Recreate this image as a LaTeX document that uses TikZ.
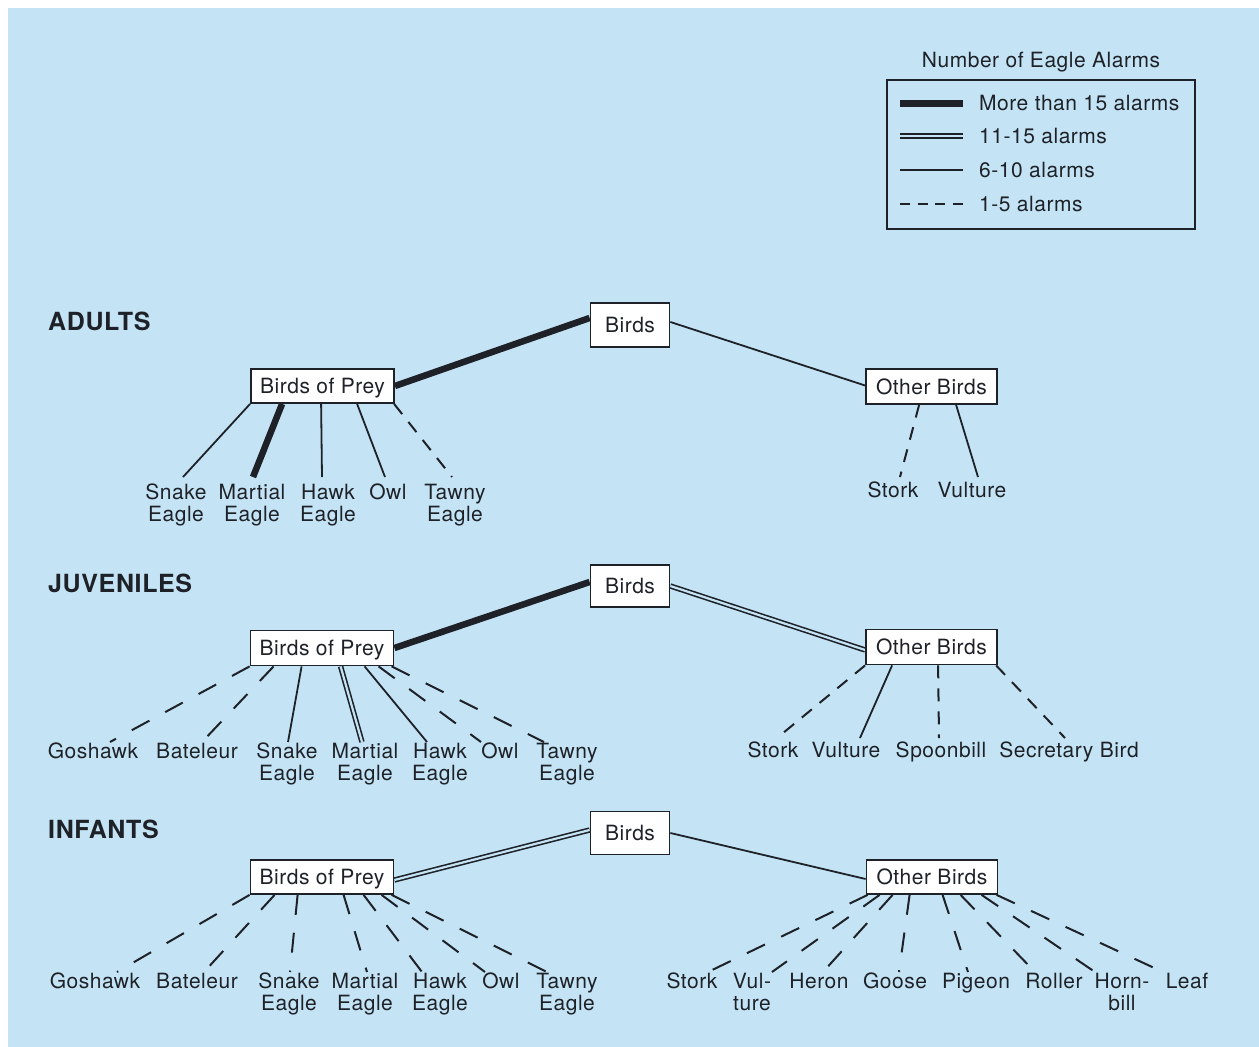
\documentclass[tikz,border=0pt]{standalone}
\usepackage{fontspec}
\setmainfont[LetterSpace=2.5]{TeX Gyre Heros}
\usetikzlibrary{calc}
\definecolor{bgblue}{RGB}{196,228,245}
\definecolor{ink}{RGB}{30,34,40}
\pgfdeclarelayer{bgl}
\pgfdeclarelayer{edgel}
\pgfsetlayers{bgl,edgel,main}
\newcommand\kidline[6]{\draw[#1] ([xshift=#3pt]#2.south west) -- ([xshift=#5pt,yshift=#6pt]#4.north);}
\begin{document}
\begin{tikzpicture}[x=1pt,y=1pt,
  lbl/.style={font=\fontsize{21}{22}\selectfont, text=ink, inner sep=0pt, align=center, anchor=north},
  txt/.style={font=\fontsize{21}{22}\selectfont, text=ink, inner sep=0pt},
  box/.style={draw=ink, fill=white, line width=1.8pt, font=\fontsize{21}{22}\selectfont, text=ink, inner sep=0pt, text height=15pt, text depth=0pt},
  bigbox/.style={box, minimum width=79pt, minimum height=43pt},
  preybox/.style={box, minimum width=143pt, minimum height=34pt},
  otherbox/.style={box, minimum width=131pt, minimum height=35pt},
  grp/.style={font=\fontsize{25}{28}\selectfont\bfseries, text=ink, inner sep=0pt, anchor=base west},
  solidln/.style={draw=ink, line width=1.8pt},
  heavyln/.style={draw=ink, line width=6.5pt},
  dblln/.style={draw=ink, double=bgblue, line width=1.6pt, double distance=2.2pt},
  dashln/.style={draw=ink, line width=2pt, dash pattern=on 13pt off 10pt},
  dashlnb/.style={draw=ink, line width=2pt, dash pattern=on 20pt off 18pt},
]
\useasboundingbox (0,0) rectangle (1259,-1047);
\begin{pgfonlayer}{bgl}
\fill[white] (0,0) rectangle (1259,-1047);
\fill[bgblue] (8,-8) rectangle (1259,-1047);
\end{pgfonlayer}

% ---------- legend ----------
\node[txt, anchor=base] (legtitle) at (1041,-67) {Number of Eagle Alarms};
\node[draw=ink, line width=1.8pt, minimum width=308pt, minimum height=149pt, inner sep=0pt] (legend) at (1041,-154.5) {};
\coordinate (l1a) at (900,-103); \coordinate (l1b) at (963,-103);
\coordinate (l2a) at (900,-136); \coordinate (l2b) at (963,-136);
\coordinate (l3a) at (900,-170); \coordinate (l3b) at (963,-170);
\coordinate (l4a) at (900,-204); \coordinate (l4b) at (963,-204);
\draw[draw=ink, line width=7pt] (l1a) -- (l1b);
\draw[draw=ink, double=bgblue, line width=1.8pt, double distance=2.2pt] (l2a) -- (l2b);
\draw[solidln] (l3a) -- (l3b);
\draw[draw=ink, line width=2pt, dash pattern=on 10pt off 7.7pt] (l4a) -- (l4b);
\node[txt, anchor=base west] (lt1) at (979,-110.5) {More than 15 alarms};
\node[txt, anchor=base west] (lt2) at (979,-143.5) {11-15 alarms};
\node[txt, anchor=base west] (lt3) at (979,-177.5) {6-10 alarms};
\node[txt, anchor=base west] (lt4) at (979,-211.5) {1-5 alarms};

% ---------- ADULTS ----------
\node[grp] (adults) at (48,-330) {ADULTS};
\node[bigbox, minimum height=44pt] (birdsA) at (630,-325) {Birds};
\node[preybox] (bopA) at (322.5,-386) {Birds of Prey};
\node[otherbox] (otherA) at (931.5,-386.5) {Other Birds};
\node[lbl] (snA) at (176,-484) {Snake\\Eagle};
\node[lbl] (maA) at (252,-484) {Martial\\Eagle};
\node[lbl] (haA) at (328,-484) {Hawk\\Eagle};
\node[lbl] (owA) at (388,-484) {Owl};
\node[lbl] (taA) at (455,-484) {Tawny\\Eagle};
\node[lbl] (stA) at (893,-482) {Stork};
\node[lbl] (vuA) at (972,-482) {Vulture};
\begin{pgfonlayer}{edgel}
\draw[heavyln] (bopA.east) -- ([yshift=7pt]birdsA.west);
\draw[solidln] ([yshift=3pt]birdsA.east) -- ([yshift=1pt]otherA.west);
\kidline{solidln}{bopA}{0}{snA}{7}{7}
\kidline{heavyln}{bopA}{32}{maA}{1}{7}
\kidline{solidln}{bopA}{71}{haA}{-6}{7}
\kidline{solidln}{bopA}{107}{owA}{-3}{7}
\kidline{dashln}{bopA}{144}{taA}{-3}{7}
\kidline{dashln}{otherA}{54}{stA}{7}{5}
\kidline{solidln}{otherA}{91}{vuA}{6}{5}
\end{pgfonlayer}

% ---------- JUVENILES ----------
\node[grp] (juv) at (48,-592) {JUVENILES};
\node[bigbox, minimum height=42pt] (birdsJ) at (630,-586) {Birds};
\node[preybox, minimum height=35pt] (bopJ) at (322,-648) {Birds of Prey};
\node[otherbox] (otherJ) at (931.5,-647) {Other Birds};
\node[lbl] (goJ) at (93,-743) {Goshawk};
\node[lbl] (baJ) at (197,-743) {Bateleur};
\node[lbl] (snJ) at (287,-743) {Snake\\Eagle};
\node[lbl] (maJ) at (365,-743) {Martial\\Eagle};
\node[lbl] (haJ) at (440,-743) {Hawk\\Eagle};
\node[lbl] (owJ) at (500,-743) {Owl};
\node[lbl] (taJ) at (567,-743) {Tawny\\Eagle};
\node[lbl] (stJ) at (773,-742) {Stork};
\node[lbl] (vuJ) at (846,-742) {Vulture};
\node[lbl] (spJ) at (941,-742) {Spoonbill};
\node[lbl] (seJ) at (1069,-742) {Secretary Bird};
\begin{pgfonlayer}{edgel}
\draw[heavyln] (bopJ.east) -- ([yshift=4pt]birdsJ.west);
\draw[dblln] (birdsJ.east) -- ([yshift=-3pt]otherJ.west);
\kidline{dashlnb}{bopJ}{0}{goJ}{17}{1}
\kidline{dashlnb}{bopJ}{24}{baJ}{5}{1}
\kidline{solidln}{bopJ}{52}{snJ}{1}{1}
\kidline{dblln}{bopJ}{91}{maJ}{-3}{1}
\kidline{solidln}{bopJ}{115}{haJ}{-13}{1}
\kidline{dashlnb}{bopJ}{129}{owJ}{-19}{1}
\kidline{dashlnb}{bopJ}{142}{taJ}{-23}{1}
\kidline{dashln}{otherJ}{0}{stJ}{4}{4}
\kidline{solidln}{otherJ}{27}{vuJ}{14}{4}
\kidline{dashln}{otherJ}{73}{spJ}{-2}{4}
\kidline{dashln}{otherJ}{131}{seJ}{-4}{4}
\end{pgfonlayer}

% ---------- INFANTS ----------
\node[grp] (inf) at (48,-838) {INFANTS};
\node[bigbox] (birdsI) at (630,-833) {Birds};
\node[preybox] (bopI) at (322,-877) {Birds of Prey};
\node[otherbox, minimum height=34pt] (otherI) at (932,-877) {Other Birds};
\node[lbl] (goI) at (95,-973) {Goshawk};
\node[lbl] (baI) at (197,-973) {Bateleur};
\node[lbl] (snI) at (289,-973) {Snake\\Eagle};
\node[lbl] (maI) at (365,-973) {Martial\\Eagle};
\node[lbl] (haI) at (440,-973) {Hawk\\Eagle};
\node[lbl] (owI) at (501,-973) {Owl};
\node[lbl] (taI) at (567,-973) {Tawny\\Eagle};
\node[lbl] (stI) at (692,-973) {Stork};
\node[lbl] (vlI) at (752,-973) {Vul-\\ture};
\node[lbl] (heI) at (819,-973) {Heron};
\node[lbl] (gsI) at (895,-973) {Goose};
\node[lbl] (piI) at (976,-973) {Pigeon};
\node[lbl] (roI) at (1054,-973) {Roller};
\node[lbl] (hoI) at (1122,-973) {Horn-\\bill};
\node[lbl] (leI) at (1187,-973) {Leaf};
\begin{pgfonlayer}{edgel}
\draw[dblln] ([yshift=-3pt]bopI.east) -- ([yshift=3pt]birdsI.west);
\draw[solidln] (birdsI.east) -- ([yshift=-2pt]otherI.west);
\kidline{dashlnb}{bopI}{0}{goI}{22}{1}
\kidline{dashlnb}{bopI}{25}{baI}{7}{1}
\kidline{dashlnb}{bopI}{48}{snI}{1}{1}
\kidline{dashlnb}{bopI}{94}{maI}{2}{1}
\kidline{dashlnb}{bopI}{114}{haI}{-18}{1}
\kidline{dashlnb}{bopI}{132}{owI}{-16}{1}
\kidline{dashlnb}{bopI}{142}{taI}{-20}{1}
\kidline{dashlnb}{otherI}{2}{stI}{16}{1}
\kidline{dashlnb}{otherI}{14}{vlI}{20}{1}
\kidline{dashlnb}{otherI}{27}{heI}{4}{1}
\kidline{dashlnb}{otherI}{44}{gsI}{4}{1}
\kidline{dashlnb}{otherI}{77}{piI}{-8}{1}
\kidline{dashlnb}{otherI}{95}{roI}{-19}{1}
\kidline{dashlnb}{otherI}{116}{hoI}{-27}{1}
\kidline{dashlnb}{otherI}{131}{leI}{-24}{1}
\end{pgfonlayer}
\end{tikzpicture}
\end{document}
